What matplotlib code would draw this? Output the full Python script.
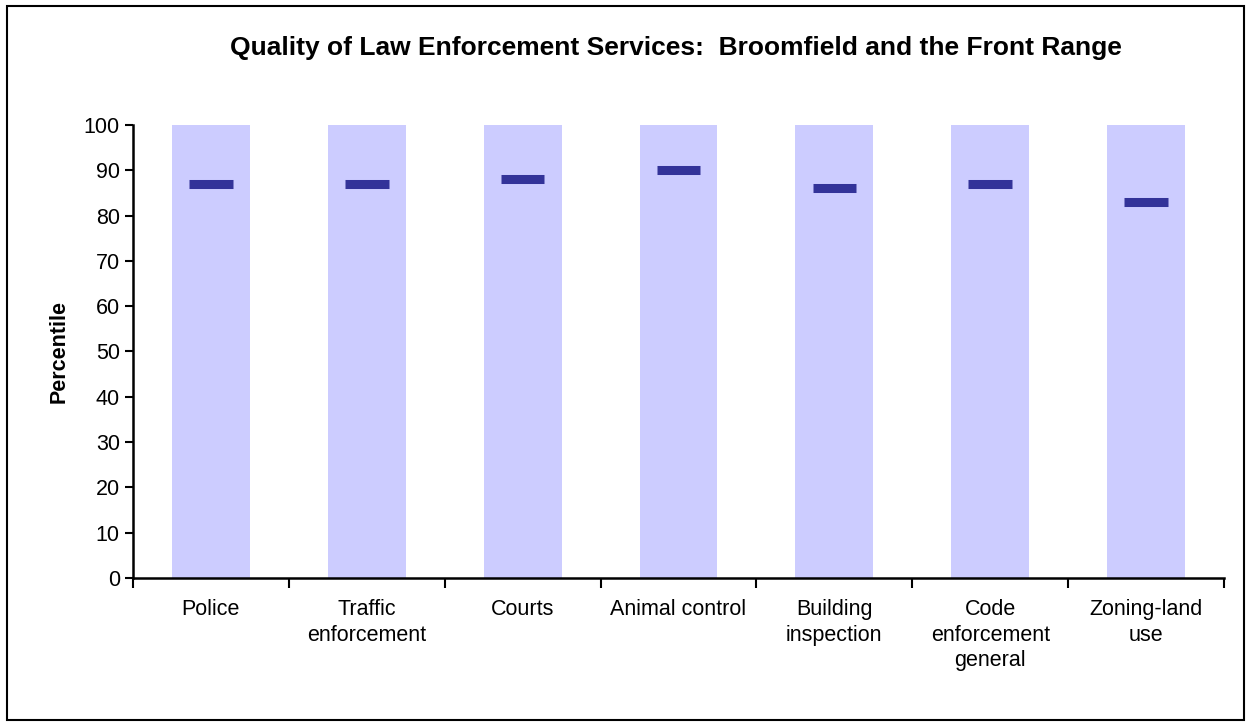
import matplotlib.pyplot as plt
import numpy as np
from matplotlib.patches import Rectangle

plt.rcParams['font.family'] = ['Liberation Sans', 'DejaVu Sans']

categories = ['Police', 'Traffic\nenforcement', 'Courts', 'Animal control',
              'Building\ninspection', 'Code\nenforcement\ngeneral', 'Zoning-land\nuse']
range_top = [100, 100, 100, 100, 100, 100, 100]
percentile = [87, 87, 88, 90, 86, 87, 83]

fig = plt.figure(figsize=(12.52, 7.25), dpi=100)
ax = fig.add_axes([133 / 1252, 1 - 578 / 725, (1224 - 133) / 1252, (578 - 125) / 725])

x = np.arange(len(categories))
ax.bar(x, range_top, width=0.5, color='#ccccff', zorder=1)
ax.hlines(percentile, x - 0.14, x + 0.14, color='#333399', lw=6.5, zorder=2)

ax.set_xlim(-0.5, len(categories) - 0.5)
ax.set_ylim(0, 100)
ax.set_yticks(range(0, 101, 10))
ax.set_xticks(np.arange(-0.5, len(categories), 1.0))
ax.set_xticklabels([])
ax.tick_params(axis='both', direction='out', length=6, width=1.5, labelsize=15.5)
ax.tick_params(axis='x', length=7)
for xi, lab in zip(x, categories):
    ax.text(xi, -4.6, lab, ha='center', va='top', fontsize=15.5, linespacing=1.3)

for side in ['top', 'right']:
    ax.spines[side].set_visible(False)
for side in ['left', 'bottom']:
    ax.spines[side].set_linewidth(1.8)

ax.set_ylabel('Percentile', fontsize=15.5, fontweight='bold', labelpad=10)
fig.text(0.54, 1 - 48 / 725, 'Quality of Law Enforcement Services:  Broomfield and the Front Range',
         ha='center', va='center', fontsize=19, fontweight='bold')

fig.patches.append(Rectangle((7 / 1252, 5 / 725), 1237 / 1252, 714 / 725,
                             transform=fig.transFigure, fill=False, ec='black', lw=1.5))

fig.savefig('out.png', dpi=100)
